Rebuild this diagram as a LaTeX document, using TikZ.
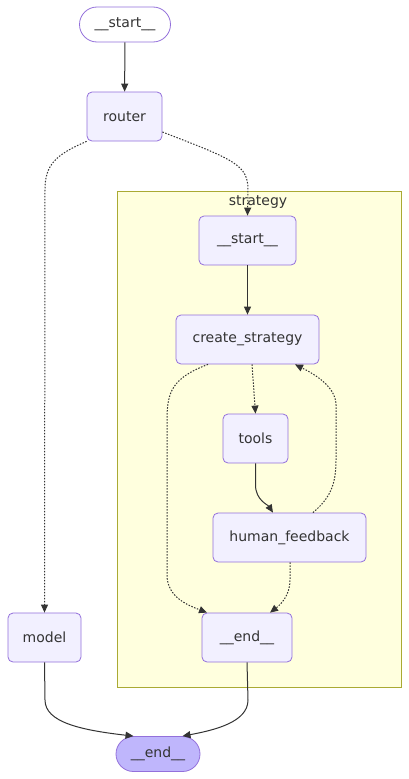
\documentclass[tikz,border=0pt]{standalone}
\usepackage{fontspec}
\setmainfont{DejaVu Sans}
\usetikzlibrary{arrows.meta,shapes.misc}
\definecolor{nodefill}{HTML}{F2F0FF}
\definecolor{nodeline}{HTML}{9370DB}
\definecolor{lastfill}{HTML}{BFB6FC}
\definecolor{clusterfill}{HTML}{FFFFDE}
\definecolor{clusterline}{HTML}{AAAA33}
\definecolor{edgecol}{HTML}{333333}
\definecolor{txt}{HTML}{333333}
\begin{document}
\begin{tikzpicture}[x=1pt,y=-1pt,
  box/.style={draw=nodeline,fill=nodefill,rounded corners=5pt,line width=0.8pt,
    inner sep=0pt,minimum height=49pt,font=\fontsize{14}{16}\selectfont,text=txt},
  pill/.style={draw=nodeline,rounded rectangle,line width=0.8pt,inner sep=0pt,
    minimum height=35pt,font=\fontsize{14}{16}\selectfont,text=txt},
  solidedge/.style={draw=edgecol,line width=1pt,-{Triangle[length=8pt,width=7pt]}},
  dotedge/.style={draw=edgecol,line width=1pt,dash pattern=on 1.5pt off 1.5pt,-{Triangle[length=8pt,width=7pt]}}
]
\useasboundingbox (0,0) rectangle (409,779);
\fill[white] (0,0) rectangle (409,779);
% cluster
\node[draw=clusterline,fill=clusterfill,line width=0.8pt,minimum width=284pt,minimum height=496pt,inner sep=0pt] (cluster) at (259,439) {};
\node[font=\fontsize{14}{16}\selectfont,text=txt] (clabel) at (258,202) {strategy};
% nodes
\node[pill,fill=white,minimum width=91pt] (start) at (125,24.5) {\_\_start\_\_};
\node[box,minimum width=75pt] (router) at (124.5,116.5) {router};
\node[box,minimum width=97pt] (istart) at (247.5,240.5) {\_\_start\_\_};
\node[box,minimum width=143pt] (create) at (247.5,339.5) {create\_strategy};
\node[box,minimum width=65pt] (tools) at (255.5,438.5) {tools};
\node[box,minimum width=153pt] (hf) at (289.5,537.5) {human\_feedback};
\node[box,minimum width=90pt] (iend) at (247,637.5) {\_\_end\_\_};
\node[box,minimum width=73pt] (model) at (44.5,637.5) {model};
\node[pill,fill=lastfill,minimum width=84pt] (end) at (158,754) {\_\_end\_\_};
% edges
\draw[solidedge] (start) -- (router);
\draw[dotedge] (router.south west) .. controls (55,155) and (45,165) .. (45,190) -- (model.north);
\draw[dotedge] (router.east |- 0,132) .. controls (235,160) and (248,165) .. (248,190) -- (istart.north);
\draw[solidedge] (istart) -- (create);
\draw[dotedge] (create.south -| 252,0) -- (tools.north);
\draw[dotedge] (create.south -| 208,0) .. controls (172,378) and (167,392) .. (167,420) -- (167,575) .. controls (167,598) and (190,606) .. (iend.north -| 207,0);
\draw[solidedge] (tools.south) -- (255.5,485) .. controls (255.5,500) and (268,505) .. (hf.north -| 273,0);
\draw[dotedge] (hf.north -| 313,0) .. controls (330,498) and (336,485) .. (336,460) -- (336,405) .. controls (336,385) and (310,372) .. (create.south -| 295,0);
\draw[dotedge] (hf.south -| 290,0) -- (290,580) .. controls (290,596) and (280,605) .. (iend.north -| 270,0);
\draw[solidedge] (model.south) -- (45,700) .. controls (45,722) and (80,730) .. (end.north west);
\draw[solidedge] (iend.south) -- (248,700) .. controls (248,722) and (215,730) .. (end.north east);
\end{tikzpicture}
\end{document}
